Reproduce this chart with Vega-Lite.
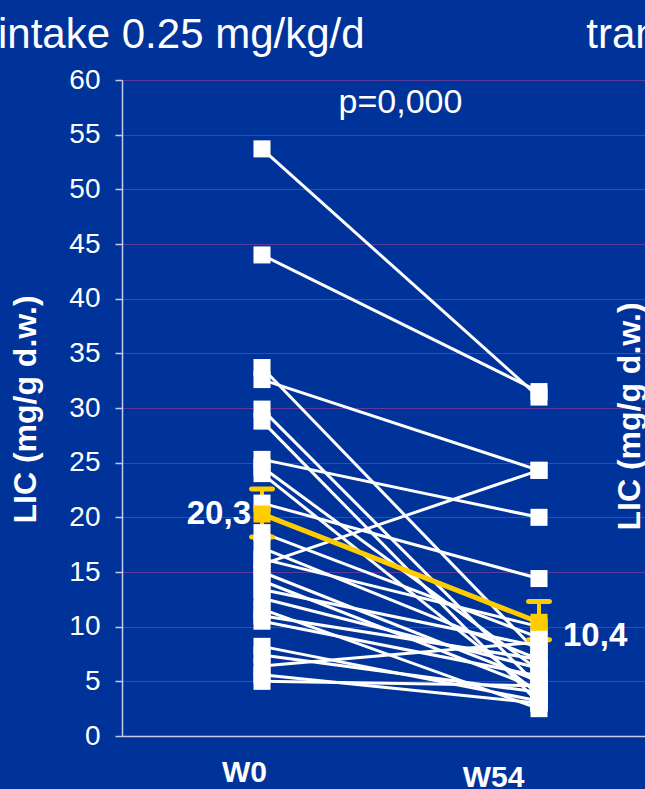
{
  "$schema": "https://vega.github.io/schema/vega-lite/v6.json",
  "width": 523,
  "height": 656,
  "autosize": {"type": "none"},
  "padding": {"left": 122, "top": 80, "right": 0, "bottom": 53},
  "background": "#003399",
  "config": {"view": {"stroke": null}, "font": "Liberation Sans"},
  "title": {
    "text": "intake 0.25 mg/kg/d\u00a0\u00a0\u00a0\u00a0\u00a0\u00a0\u00a0\u00a0\u00a0\u00a0\u00a0\u00a0\u00a0\u00a0\u00a0\u00a0\u00a0\u00a0\u00a0tran",
    "anchor": "start",
    "frame": "group",
    "orient": "top",
    "font": "Liberation Sans",
    "fontSize": 42,
    "fontWeight": "normal",
    "color": "white",
    "dx": -124,
    "dy": 57,
    "baseline": "alphabetic",
    "offset": 33
  },
  "datasets": {
    "patients": [
      {"id": 1, "week": 0, "lic": 53.7}, {"id": 1, "week": 54, "lic": 31.0},
      {"id": 2, "week": 0, "lic": 44.0}, {"id": 2, "week": 54, "lic": 31.5},
      {"id": 3, "week": 0, "lic": 33.7}, {"id": 3, "week": 54, "lic": 7.5},
      {"id": 4, "week": 0, "lic": 32.6}, {"id": 4, "week": 54, "lic": 24.3},
      {"id": 5, "week": 0, "lic": 29.9}, {"id": 5, "week": 54, "lic": 4.5},
      {"id": 6, "week": 0, "lic": 28.8}, {"id": 6, "week": 54, "lic": 3.0},
      {"id": 7, "week": 0, "lic": 25.3}, {"id": 7, "week": 54, "lic": 20.0},
      {"id": 8, "week": 0, "lic": 24.6}, {"id": 8, "week": 54, "lic": 6.0},
      {"id": 9, "week": 0, "lic": 24.0}, {"id": 9, "week": 54, "lic": 3.8},
      {"id": 10, "week": 0, "lic": 21.3}, {"id": 10, "week": 54, "lic": 14.4},
      {"id": 11, "week": 0, "lic": 18.6}, {"id": 11, "week": 54, "lic": 9.0},
      {"id": 12, "week": 0, "lic": 17.2}, {"id": 12, "week": 54, "lic": 7.0},
      {"id": 13, "week": 0, "lic": 16.2}, {"id": 13, "week": 54, "lic": 10.0},
      {"id": 14, "week": 0, "lic": 15.7}, {"id": 14, "week": 54, "lic": 24.3},
      {"id": 15, "week": 0, "lic": 15.0}, {"id": 15, "week": 54, "lic": 5.0},
      {"id": 16, "week": 0, "lic": 14.2}, {"id": 16, "week": 54, "lic": 4.3},
      {"id": 17, "week": 0, "lic": 13.4}, {"id": 17, "week": 54, "lic": 8.2},
      {"id": 18, "week": 0, "lic": 12.6}, {"id": 18, "week": 54, "lic": 6.2},
      {"id": 19, "week": 0, "lic": 11.6}, {"id": 19, "week": 54, "lic": 2.5},
      {"id": 20, "week": 0, "lic": 11.0}, {"id": 20, "week": 54, "lic": 7.0},
      {"id": 21, "week": 0, "lic": 10.5}, {"id": 21, "week": 54, "lic": 5.5},
      {"id": 22, "week": 0, "lic": 8.2}, {"id": 22, "week": 54, "lic": 3.2},
      {"id": 23, "week": 0, "lic": 7.4}, {"id": 23, "week": 54, "lic": 4.0},
      {"id": 24, "week": 0, "lic": 6.4}, {"id": 24, "week": 54, "lic": 8.6},
      {"id": 25, "week": 0, "lic": 5.0}, {"id": 25, "week": 54, "lic": 4.6},
      {"id": 26, "week": 0, "lic": 5.6}, {"id": 26, "week": 54, "lic": 3.0}
    ],
    "means": [
      {"week": 0, "lic": 20.3, "lo": 18.2, "hi": 22.6, "label": "20,3"},
      {"week": 54, "lic": 10.4, "lo": 8.8, "hi": 12.3, "label": "10,4"}
    ],
    "note": [
      {"week": 27, "lic": 57.9, "label": "p=0,000"}
    ]
  },
  "resolve": {"axis": {"y": "independent"}},
  "encoding": {
    "x": {
      "field": "week",
      "type": "quantitative",
      "scale": {"domain": [-27.292, 74.664], "nice": false, "zero": false},
      "axis": {
        "title": null,
        "values": [0, 54],
        "labelExpr": "datum.value == 0 ? 'W0' : 'W54'",
        "ticks": false,
        "grid": false,
        "domainColor": "#c4cbe8",
        "domainWidth": 1.5,
        "labelColor": "white",
        "labelFont": "Liberation Sans",
        "labelFontSize": 30,
        "labelFontWeight": "bold",
        "labelBaseline": "top",
        "labelOffset": {"condition": {"test": "datum.value == 0", "value": -18}, "value": -46},
        "labelPadding": {"condition": {"test": "datum.value == 0", "value": 21}, "value": 26}
      }
    }
  },
  "layer": [
    {
      "data": {"name": "patients"},
      "mark": {"type": "line", "color": "white", "strokeWidth": 3},
      "encoding": {
        "y": {
          "field": "lic",
          "type": "quantitative",
          "scale": {"domain": [0, 60], "nice": false},
          "axis": {
            "values": [0, 5, 10, 15, 20, 25, 30, 35, 40, 45, 50, 55, 60],
            "grid": true,
            "gridColor": "#5a3a9c",
            "gridWidth": 1,
            "domainColor": "#c4cbe8",
            "domainWidth": 1.5,
            "tickColor": "#c4cbe8",
            "tickSize": 7,
            "tickWidth": 1.5,
            "labelColor": "white",
            "labelFont": "Liberation Sans",
            "labelFontSize": 28,
            "labelPadding": 15,
            "title": "LIC (mg/g d.w.)",
            "titleColor": "white",
            "titleFont": "Liberation Sans",
            "titleFontSize": 32,
            "titleFontWeight": "bold",
            "titleAngle": 270,
            "titleAlign": "center",
            "titleBaseline": "middle",
            "titleX": -97,
            "titleY": 329
          }
        },
        "detail": {"field": "id", "type": "nominal"}
      }
    },
    {
      "data": {"name": "means"},
      "mark": {"type": "line", "color": "#ffcc00", "strokeWidth": 5},
      "encoding": {"y": {"field": "lic", "type": "quantitative", "axis": null}}
    },
    {
      "data": {"name": "means"},
      "mark": {"type": "rule", "color": "#ffcc00", "strokeWidth": 4},
      "encoding": {
        "y": {"field": "lo", "type": "quantitative", "axis": null},
        "y2": {"field": "hi"}
      }
    },
    {
      "data": {"name": "means"},
      "mark": {"type": "tick", "color": "#ffcc00", "orient": "horizontal", "size": 26, "thickness": 5, "cornerRadius": 2.5, "opacity": 1},
      "encoding": {"y": {"field": "hi", "type": "quantitative", "axis": null}}
    },
    {
      "data": {"name": "means"},
      "mark": {"type": "tick", "color": "#ffcc00", "orient": "horizontal", "size": 26, "thickness": 5, "cornerRadius": 2.5, "opacity": 1},
      "encoding": {"y": {"field": "lo", "type": "quantitative", "axis": null}}
    },
    {
      "data": {"name": "patients"},
      "mark": {"type": "point", "shape": "square", "filled": true, "color": "white", "opacity": 1, "size": 290},
      "encoding": {"y": {"field": "lic", "type": "quantitative", "axis": null}}
    },
    {
      "data": {"name": "means"},
      "mark": {"type": "point", "shape": "square", "filled": true, "color": "#ffcc00", "opacity": 1, "size": 290},
      "encoding": {"y": {"field": "lic", "type": "quantitative", "axis": null}}
    },
    {
      "data": {"name": "means"},
      "transform": [{"filter": "datum.week == 0"}],
      "mark": {"type": "text", "color": "white", "font": "Liberation Sans", "fontSize": 33, "fontWeight": "bold", "align": "right", "baseline": "middle", "dx": -11},
      "encoding": {
        "y": {"field": "lic", "type": "quantitative", "axis": null},
        "text": {"field": "label"}
      }
    },
    {
      "data": {"name": "means"},
      "transform": [{"filter": "datum.week == 54"}],
      "mark": {"type": "text", "color": "white", "font": "Liberation Sans", "fontSize": 33, "fontWeight": "bold", "align": "left", "baseline": "middle", "dx": 24, "dy": 14},
      "encoding": {
        "y": {"field": "lic", "type": "quantitative", "axis": null},
        "text": {"field": "label"}
      }
    },
    {
      "data": {"name": "note"},
      "mark": {"type": "text", "color": "white", "font": "Liberation Sans", "fontSize": 34, "align": "center", "baseline": "middle"},
      "encoding": {
        "y": {
          "field": "lic",
          "type": "quantitative",
          "axis": {
            "orient": "right",
            "labels": false,
            "ticks": false,
            "domain": false,
            "grid": false,
            "title": "LIC (mg/g d.w.)",
            "titleColor": "white",
            "titleFont": "Liberation Sans",
            "titleFontSize": 32,
            "titleFontWeight": "bold",
            "titleAngle": 270,
            "titleAlign": "center",
            "titleBaseline": "middle",
            "titleX": -16,
            "titleY": 336
          }
        },
        "text": {"field": "label"}
      }
    }
  ]
}
